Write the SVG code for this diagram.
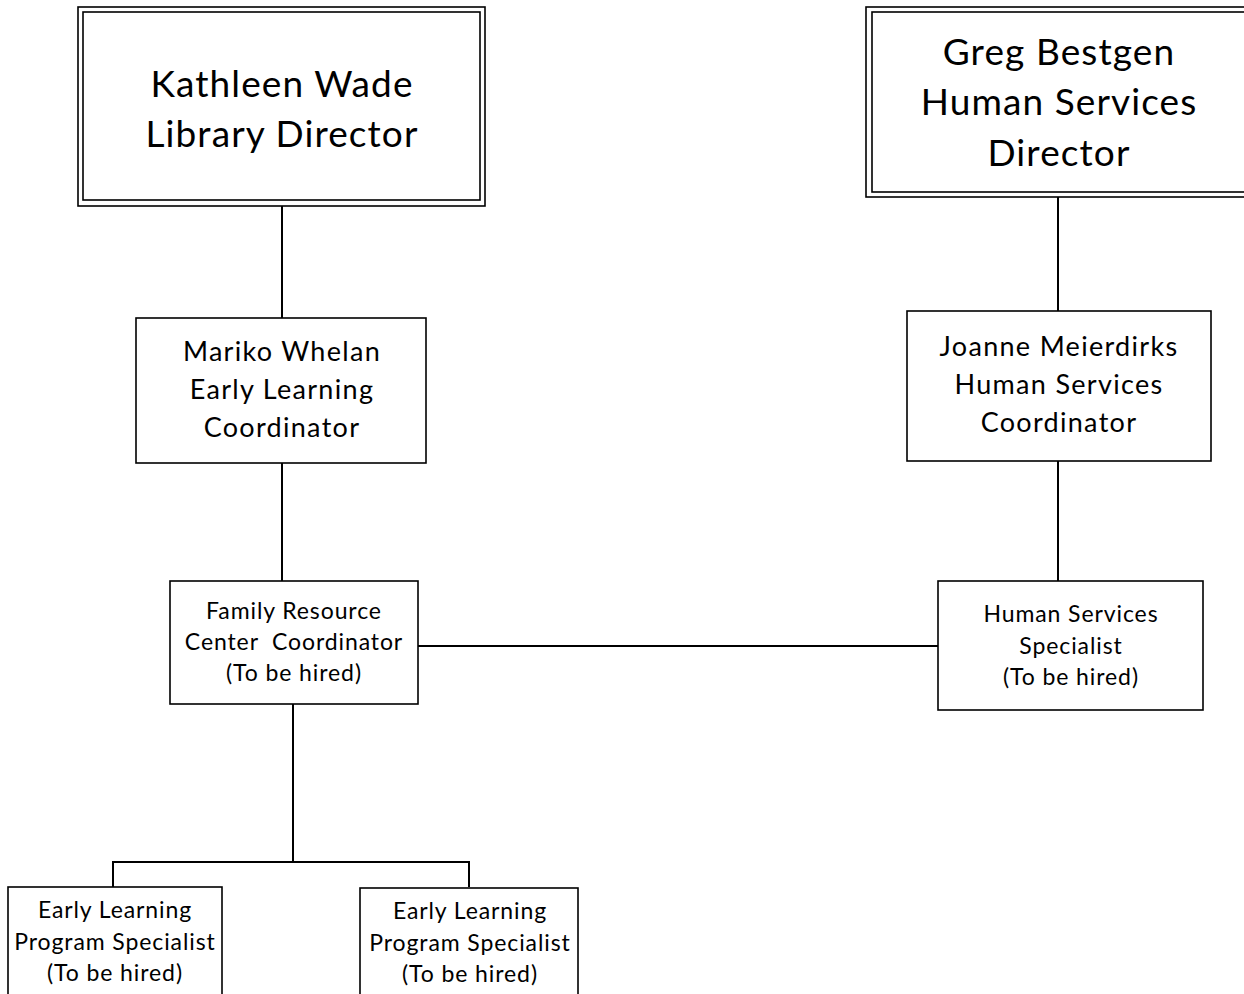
<svg xmlns="http://www.w3.org/2000/svg" width="1244" height="994" viewBox="0 0 1244 994">
<style>
.box{fill:#fff;stroke:#000;stroke-width:1.6}
.dbl{fill:none;stroke:#000;stroke-width:1.6}
.conn line{stroke:#000;stroke-width:2}
text{font-family:"Lato","Open Sans","Liberation Sans",sans-serif;fill:#000;text-anchor:middle}
.big{font-size:37px;letter-spacing:1.1px}
.mid{font-size:27px;letter-spacing:1.3px}
.sm{font-size:23px;letter-spacing:0.9px}
</style>
<rect width="1244" height="994" fill="#fff"/>
<g id="connectors" class="conn">
<line x1="282" y1="206" x2="282" y2="318"/>
<line x1="282" y1="463" x2="282" y2="581"/>
<line x1="1058" y1="197" x2="1058" y2="311"/>
<line x1="1058" y1="461" x2="1058" y2="581"/>
<line x1="418" y1="646" x2="938" y2="646"/>
<line x1="293" y1="704" x2="293" y2="862"/>
<line x1="112" y1="862" x2="470" y2="862"/>
<line x1="113" y1="861" x2="113" y2="887"/>
<line x1="469" y1="861" x2="469" y2="887"/>
</g>
<g id="kathleen">
<rect class="box" x="78" y="7" width="407" height="199"/>
<rect class="dbl" x="83" y="12" width="397" height="188"/>
<text class="big" x="282" y="97">Kathleen Wade</text>
<text class="big" x="282" y="147">Library Director</text>
</g>
<g id="greg">
<rect class="box" x="866" y="7" width="390" height="190"/>
<rect class="dbl" x="872" y="12" width="380" height="180"/>
<text class="big" x="1059" y="65">Greg Bestgen</text>
<text class="big" x="1059" y="115">Human Services</text>
<text class="big" x="1059" y="166">Director</text>
</g>
<g id="mariko">
<rect class="box" x="136" y="318" width="290" height="145"/>
<text class="mid" x="282" y="361">Mariko Whelan</text>
<text class="mid" x="282" y="399">Early Learning</text>
<text class="mid" x="282" y="437">Coordinator</text>
</g>
<g id="joanne">
<rect class="box" x="907" y="311" width="304" height="150"/>
<text class="mid" x="1059" y="356">Joanne Meierdirks</text>
<text class="mid" x="1059" y="394">Human Services</text>
<text class="mid" x="1059" y="432">Coordinator</text>
</g>
<g id="frc">
<rect class="box" x="170" y="581" width="248" height="123"/>
<text class="sm" x="294" y="619">Family Resource</text>
<text class="sm" x="294" y="650">Center&#160; Coordinator</text>
<text class="sm" x="294" y="681">(To be hired)</text>
</g>
<g id="hss">
<rect class="box" x="938" y="581" width="265" height="129"/>
<text class="sm" x="1071" y="622">Human Services</text>
<text class="sm" x="1071" y="654">Specialist</text>
<text class="sm" x="1071" y="685">(To be hired)</text>
</g>
<g id="elps1">
<rect class="box" x="8" y="887" width="214" height="120"/>
<text class="sm" x="115" y="918">Early Learning</text>
<text class="sm" x="115" y="950">Program Specialist</text>
<text class="sm" x="115" y="981">(To be hired)</text>
</g>
<g id="elps2">
<rect class="box" x="360" y="888" width="218" height="120"/>
<text class="sm" x="470" y="919">Early Learning</text>
<text class="sm" x="470" y="951">Program Specialist</text>
<text class="sm" x="470" y="982">(To be hired)</text>
</g>
</svg>
